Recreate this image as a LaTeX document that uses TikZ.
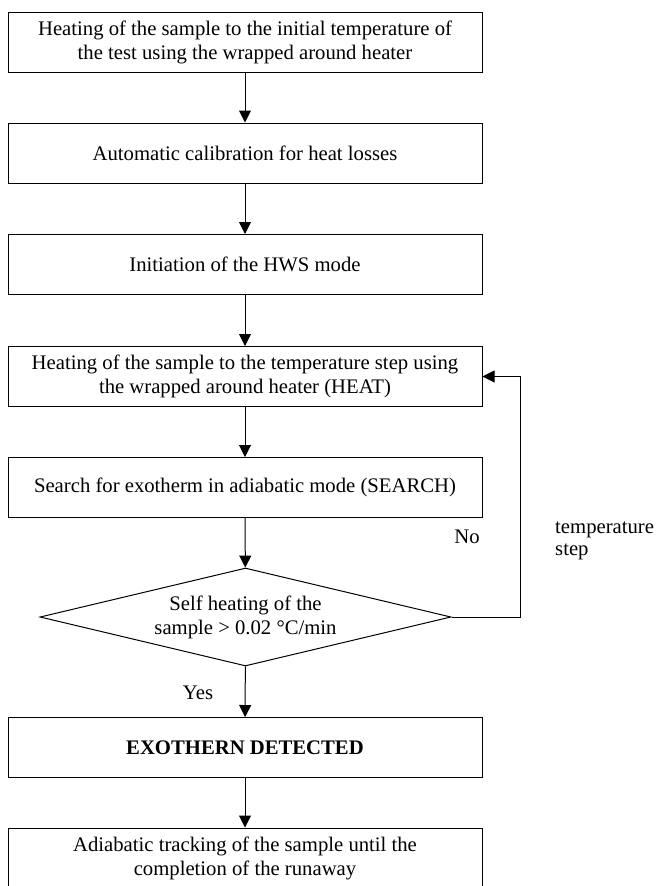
\documentclass[tikz,border=0pt]{standalone}
\usepackage{fontspec}
\setmainfont{Liberation Serif}
\usetikzlibrary{arrows.meta,shapes.geometric}
\begin{document}
\begin{tikzpicture}[x=1pt,y=-1pt,
  every node/.style={font=\fontsize{20.7}{24}\selectfont},
  procbox/.style={draw,line width=1pt,minimum width=474pt,minimum height=60pt,inner sep=0pt,align=center},
  decide/.style={draw,line width=1pt,diamond,shape aspect=4.2,minimum width=411pt,minimum height=98pt,inner sep=0pt,align=center},
  arr/.style={line width=1pt,-{Triangle[length=12pt,width=12pt]}},
  lbl/.style={inner sep=0pt}]
\useasboundingbox (0,0) rectangle (656,886);
\clip (0,0) rectangle (656,886);
\node[procbox] (b1) at (245,42.5) {Heating of the sample to the initial temperature of\\the test using the wrapped around heater};
\node[procbox] (b2) at (245,153) {Automatic calibration for heat losses};
\node[procbox] (b3) at (245,264.5) {Initiation of the HWS mode};
\node[procbox] (b4) at (245,376.5) {Heating of the sample to the temperature step using\\the wrapped around heater (HEAT)};
\node[procbox] (b5) at (245,487.5) {Search for exotherm in adiabatic mode (SEARCH)};
\node[decide] (d) at (245.5,617) {Self heating of the\\sample > 0.02 °C/min};
\node[procbox] (b6) at (245,747.5) {\bfseries EXOTHERN DETECTED};
\node[procbox] (b7) at (245,858) {Adiabatic tracking of the sample until the\\completion of the runaway};
\draw[arr] (b1) -- (b2);
\draw[arr] (b2) -- (b3);
\draw[arr] (b3) -- (b4);
\draw[arr] (b4) -- (b5);
\draw[arr] (b5) -- (d);
\draw[arr] (d) -- (b6);
\draw[arr] (b6) -- (b7);
\coordinate (loop) at (520,617);
\draw[arr] (d.east) -- (loop) |- (b4.east);
\node[lbl] (no) at (467,537) {No};
\node[lbl] (yes) at (198,693) {Yes};
\node[lbl,anchor=base west,align=left,font=\fontsize{20.7}{21.5}\selectfont] (ts) at (555,555) {temperature\\step};
\end{tikzpicture}
\end{document}
